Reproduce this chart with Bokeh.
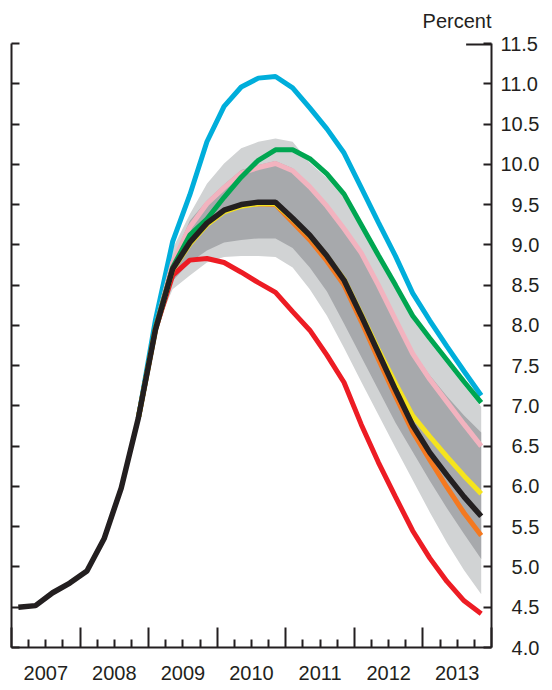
from bokeh.plotting import figure
from bokeh.models import LinearAxis, FixedTicker, Range1d
from bokeh.embed import file_html
from bokeh.resources import INLINE

# ---------------- data ----------------
years = [2007, 2008, 2009, 2010, 2011, 2012, 2013]
year_labels = ["2007", "2008", "2009", "2010", "2011", "2012", "2013"]
y_ticks = [4.0, 4.5, 5.0, 5.5, 6.0, 6.5, 7.0, 7.5, 8.0, 8.5, 9.0, 9.5, 10.0, 10.5, 11.0, 11.5]
y_tick_labels = ["4.0", "4.5", "5.0", "5.5", "6.0", "6.5", "7.0", "7.5",
                 "8.0", "8.5", "9.0", "9.5", "10.0", "10.5", "11.0", "11.5"]

quarters = ["2007Q1", "2007Q2", "2007Q3", "2007Q4", "2008Q1", "2008Q2", "2008Q3", "2008Q4",
            "2009Q1", "2009Q2", "2009Q3", "2009Q4", "2010Q1", "2010Q2", "2010Q3", "2010Q4",
            "2011Q1", "2011Q2", "2011Q3", "2011Q4", "2012Q1", "2012Q2", "2012Q3", "2012Q4",
            "2013Q1", "2013Q2", "2013Q3", "2013Q4"]

# baseline (history + forecast), black
baseline = [4.50, 4.52, 4.68, 4.80, 4.95, 5.35, 5.98, 6.85,
            7.95, 8.70, 9.03, 9.27, 9.43, 9.50, 9.53, 9.53,
            9.33, 9.12, 8.86, 8.56, 8.12, 7.66, 7.20, 6.76,
            6.42, 6.14, 5.87, 5.63]

# alternative scenarios start at 2008Q4
scen_quarters = quarters[7:]
yellow = [6.85, 7.95, 8.69, 9.01, 9.25, 9.41, 9.48, 9.51, 9.51, 9.32, 9.11, 8.86, 8.57,
          8.14, 7.70, 7.28, 6.88, 6.62, 6.37, 6.13, 5.91]
orange = [6.85, 7.95, 8.70, 9.02, 9.26, 9.42, 9.49, 9.51, 9.50, 9.28, 9.06, 8.80, 8.50,
          8.05, 7.58, 7.12, 6.68, 6.33, 5.99, 5.67, 5.39]
pink = [6.85, 7.97, 8.78, 9.22, 9.51, 9.71, 9.89, 9.96, 10.01, 9.92, 9.72, 9.48, 9.20,
        8.90, 8.50, 8.07, 7.65, 7.33, 7.05, 6.77, 6.50]
green = [6.85, 7.97, 8.72, 9.12, 9.32, 9.59, 9.84, 10.05, 10.18, 10.18, 10.07, 9.88, 9.63,
         9.25, 8.87, 8.50, 8.12, 7.84, 7.57, 7.30, 7.04]
blue = [6.85, 8.07, 9.04, 9.62, 10.28, 10.72, 10.96, 11.07, 11.09, 10.95, 10.70, 10.44, 10.14,
        9.71, 9.28, 8.86, 8.40, 8.06, 7.74, 7.43, 7.13]
red = [6.85, 7.95, 8.62, 8.81, 8.83, 8.78, 8.66, 8.53, 8.41, 8.17, 7.94, 7.63, 7.29,
       6.77, 6.30, 5.87, 5.45, 5.11, 4.82, 4.58, 4.42]

# confidence bands start at 2009Q1
band_quarters = quarters[8:]
outer_hi = [7.97, 8.95, 9.38, 9.76, 10.01, 10.20, 10.28, 10.32, 10.28, 10.02, 9.83, 9.58,
            9.20, 8.82, 8.45, 8.07, 7.79, 7.52, 7.25, 6.99]
inner_hi = [7.97, 8.82, 9.30, 9.55, 9.75, 9.93, 9.99, 10.04, 9.95, 9.75, 9.51, 9.23,
            8.93, 8.53, 8.10, 7.68, 7.38, 7.12, 6.88, 6.67]
inner_lo = [7.95, 8.55, 8.78, 8.93, 9.03, 9.06, 9.08, 9.08, 8.96, 8.72, 8.42, 8.02,
            7.61, 7.20, 6.79, 6.43, 6.07, 5.73, 5.41, 5.10]
outer_lo = [7.95, 8.45, 8.62, 8.78, 8.85, 8.86, 8.86, 8.85, 8.72, 8.45, 8.12, 7.72,
            7.30, 6.89, 6.48, 6.08, 5.68, 5.30, 4.96, 4.66]


def qpos(q):
    return int(q[:4]) + (int(q[-1]) - 1) * 0.25 + 0.1


x_all = [qpos(q) for q in quarters]
x_scen = [qpos(q) for q in scen_quarters]
x_band = [qpos(q) for q in band_quarters]

INK = "#231F20"
FONT = "Liberation Sans"
FIG_SPACE = "\u2007"

x_start, x_end = years[0], years[-1] + 1
p = figure(width=552, height=690, x_range=Range1d(x_start, x_end),
           y_range=Range1d(y_ticks[0], y_ticks[-1]),
           output_backend="svg", toolbar_location=None,
           x_axis_location=None, y_axis_location=None,
           min_border_left=11, min_border_right=61, min_border_top=43, min_border_bottom=43)
p.outline_line_color = None
p.grid.visible = False
p.background_fill_color = "white"
p.border_fill_color = "white"

p.title.text = "Percent"
p.title.align = "right"
p.title.vertical_align = "top"
p.title.text_font = FONT
p.title.text_font_size = "20px"
p.title.text_font_style = "normal"
p.title.text_color = INK
p.title.standoff = 18.5

# bands
p.varea(x=x_band, y1=outer_lo, y2=outer_hi, fill_color="#D1D3D4")
p.varea(x=x_band, y1=inner_lo, y2=inner_hi, fill_color="#A7A9AC")

LW = 5
p.line(x_scen, red, line_color="#ED1C24", line_width=LW)
p.line(x_scen, blue, line_color="#00AEDB", line_width=LW)
p.line(x_scen, pink, line_color="#F2B3BF", line_width=LW)
p.line(x_scen, green, line_color="#00A651", line_width=LW)
p.line(x_scen, orange, line_color="#F47920", line_width=LW)
p.line(x_scen, yellow, line_color="#F5E41E", line_width=LW)
p.line(x_all, baseline, line_color=INK, line_width=5.5)

# longer top tick at the right axis
p.segment(x0=[x_end - 0.37], y0=[y_ticks[-1]], x1=[x_end], y1=[y_ticks[-1]],
          line_color=INK, line_width=4)

hidden_labels = dict(major_label_text_font_size="0px", major_label_text_color=None,
                     major_label_standoff=0)

# left axis: ticks only
left = LinearAxis(ticker=FixedTicker(ticks=y_ticks, minor_ticks=[]),
                  major_tick_in=8, major_tick_out=0, minor_tick_in=0, minor_tick_out=0,
                  axis_line_width=2, major_tick_line_width=2,
                  axis_line_color=INK, major_tick_line_color=INK, **hidden_labels)
p.add_layout(left, "left")

# right axis with right-aligned labels (figure space pads the short ones)
width4 = max(len(s) for s in y_tick_labels)
right_overrides = {t: FIG_SPACE * (width4 - len(s)) + s for t, s in zip(y_ticks, y_tick_labels)}
right = LinearAxis(ticker=FixedTicker(ticks=y_ticks, minor_ticks=[]),
                   major_label_overrides=right_overrides,
                   major_tick_in=8, major_tick_out=0, minor_tick_in=0, minor_tick_out=0,
                   axis_line_width=2, major_tick_line_width=2,
                   axis_line_color=INK, major_tick_line_color=INK,
                   major_label_standoff=9, major_label_text_font=FONT,
                   major_label_text_font_size="20px", major_label_text_color=INK)
p.add_layout(right, "right")

# bottom axis: year and quarter ticks
year_bounds = years + [x_end]
quarter_bounds = [y + k * 0.25 for y in years for k in (1, 2, 3)]
bottom = LinearAxis(ticker=FixedTicker(ticks=year_bounds, minor_ticks=quarter_bounds),
                    major_tick_in=20, major_tick_out=0, minor_tick_in=8, minor_tick_out=0,
                    axis_line_width=2, major_tick_line_width=2, minor_tick_line_width=2,
                    axis_line_color=INK, major_tick_line_color=INK, minor_tick_line_color=INK,
                    **hidden_labels)
p.add_layout(bottom, "below")

# bottom labels centred on each year
mid_years = [y + 0.5 for y in years]
labels_axis = LinearAxis(ticker=FixedTicker(ticks=mid_years, minor_ticks=[]),
                         major_label_overrides={m: l for m, l in zip(mid_years, year_labels)},
                         axis_line_color=None, major_tick_line_color=None,
                         minor_tick_line_color=None, major_label_standoff=12,
                         major_label_text_font=FONT, major_label_text_font_size="20px",
                         major_label_text_color=INK)
p.add_layout(labels_axis, "below")

open("out.html", "w").write(file_html(p, INLINE))
